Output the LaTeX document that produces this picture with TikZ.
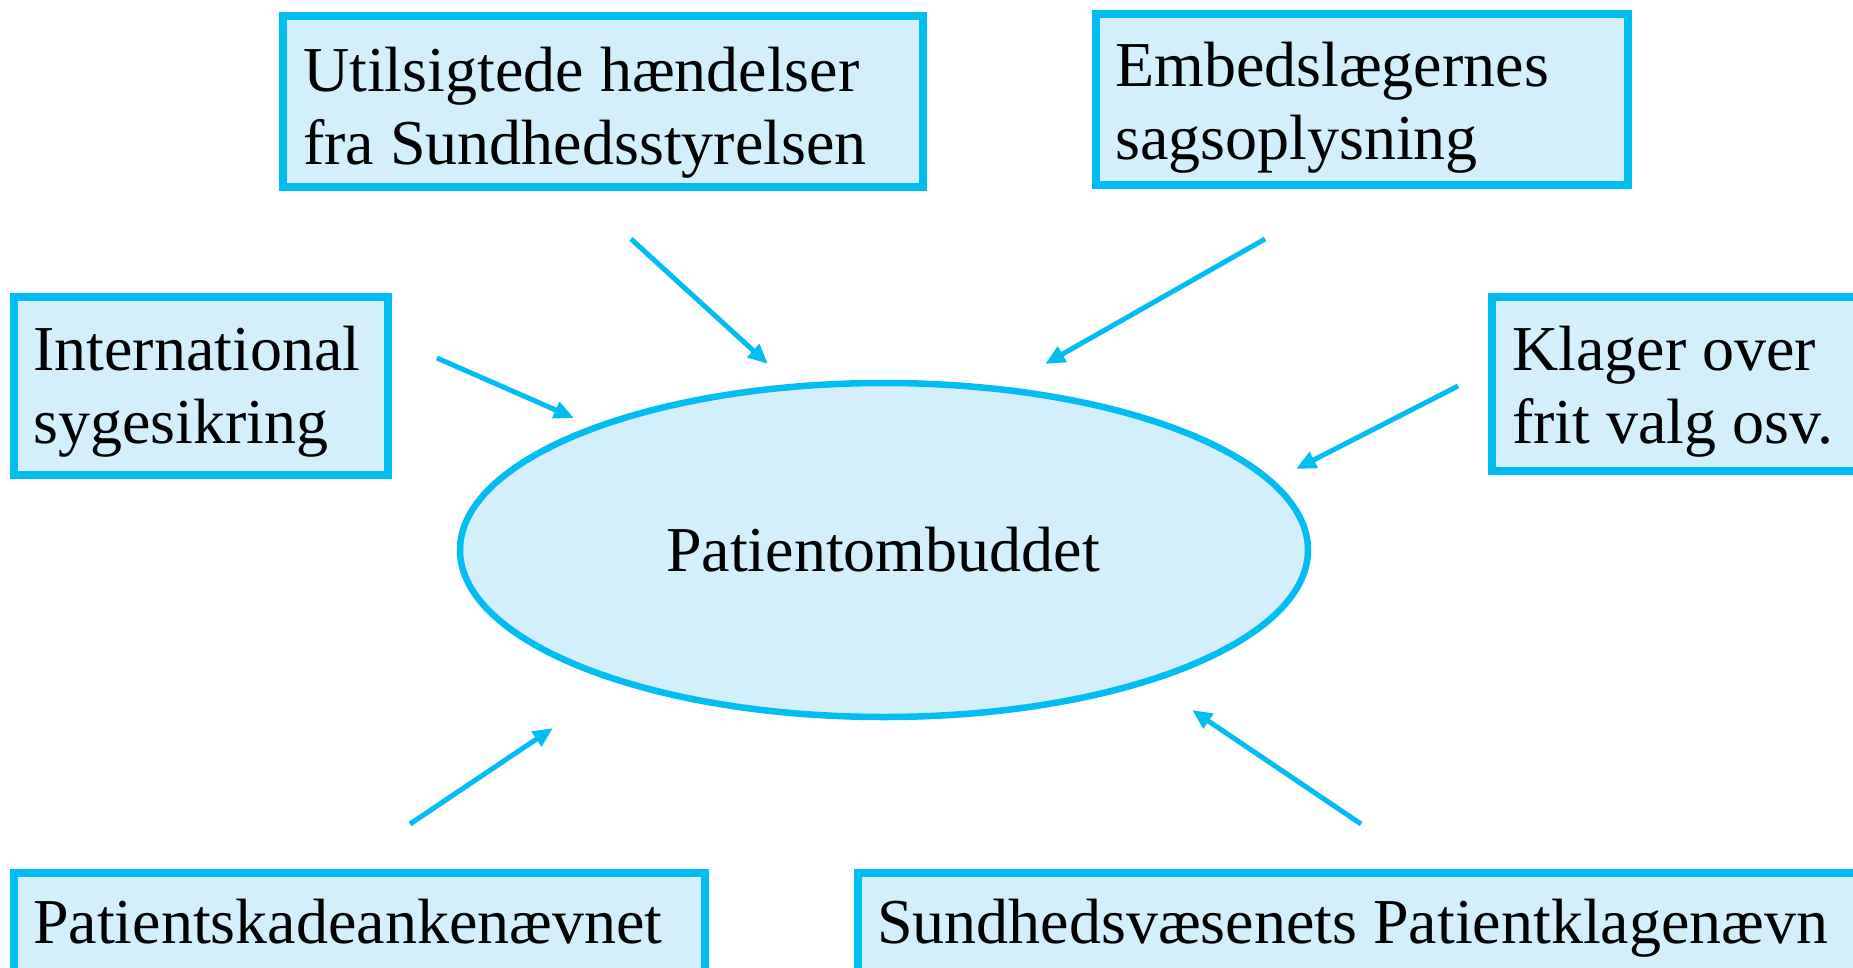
\documentclass[tikz,border=0pt]{standalone}
\usepackage{fontspec}
\setmainfont{Liberation Serif}
\usetikzlibrary{arrows.meta,shapes.geometric}
\definecolor{bord}{RGB}{0,190,242}
\definecolor{lfill}{RGB}{212,239,252}
\newcommand{\twolines}[2]{\begin{tabular}[t]{@{}l@{}}#1\\#2\end{tabular}}
\tikzset{
  boxnode/.style={draw=bord, fill=lfill, line width=8pt, rectangle, inner sep=0pt},
  txtnode/.style={inner sep=0pt, anchor=base west, font=\fontsize{64}{73}\selectfont},
  arr/.style={draw=bord, line width=5pt, -{Triangle[length=20pt,width=17pt]}}
}
\begin{document}
\begin{tikzpicture}[x=1pt,y=-1pt]
\useasboundingbox (0,0) rectangle (1853,967);
% boxes
\node[boxnode, minimum width=640pt, minimum height=171pt] (b1) at (602.5,101.5) {};
\node[boxnode, minimum width=532pt, minimum height=171pt] (b2) at (1362,99.5) {};
\node[boxnode, minimum width=374pt, minimum height=178pt] (b3) at (201,386) {};
\node[boxnode, minimum width=384pt, minimum height=174pt] (b4) at (1684,384) {};
\node[boxnode, minimum width=691pt, minimum height=118pt] (b5) at (359.5,932) {};
\node[boxnode, minimum width=1019pt, minimum height=118pt] (b6) at (1367,932) {};
% ellipse
\node[ellipse, draw=bord, fill=lfill, line width=6.5pt, minimum width=848pt, minimum height=334pt, inner sep=0pt] (pat) at (884,550) {};
% texts
\node[txtnode] (t1) at (303,91) {\twolines{Utilsigtede hændelser}{fra Sundhedsstyrelsen}};
\node[txtnode] (t2) at (1115,86) {\twolines{Embedslægernes}{sagsoplysning}};
\node[txtnode] (t3) at (33,370) {\twolines{International}{sygesikring}};
\node[txtnode] (t4) at (1512,370) {\twolines{Klager over}{frit valg osv.}};
\node[txtnode] (t5) at (33,943) {Patientskadeankenævnet};
\node[txtnode] (t6) at (877,943) {Sundhedsvæsenets Patientklagenævn};
\node[txtnode, anchor=base] (tp) at (883,571) {Patientombuddet};
% arrow coordinates
\coordinate (s1) at (631,239); \coordinate (e1) at (768,364);
\coordinate (s2) at (1265,239); \coordinate (e2) at (1045,364);
\coordinate (s3) at (437,358); \coordinate (e3) at (574,418);
\coordinate (s4) at (1458,386); \coordinate (e4) at (1296,469);
\coordinate (s5) at (410,824); \coordinate (e5) at (553,728);
\coordinate (s6) at (1361,824); \coordinate (e6) at (1192,710);
\draw[arr] (s1) -- (e1);
\draw[arr] (s2) -- (e2);
\draw[arr] (s3) -- (e3);
\draw[arr] (s4) -- (e4);
\draw[arr] (s5) -- (e5);
\draw[arr] (s6) -- (e6);
\end{tikzpicture}
\end{document}
